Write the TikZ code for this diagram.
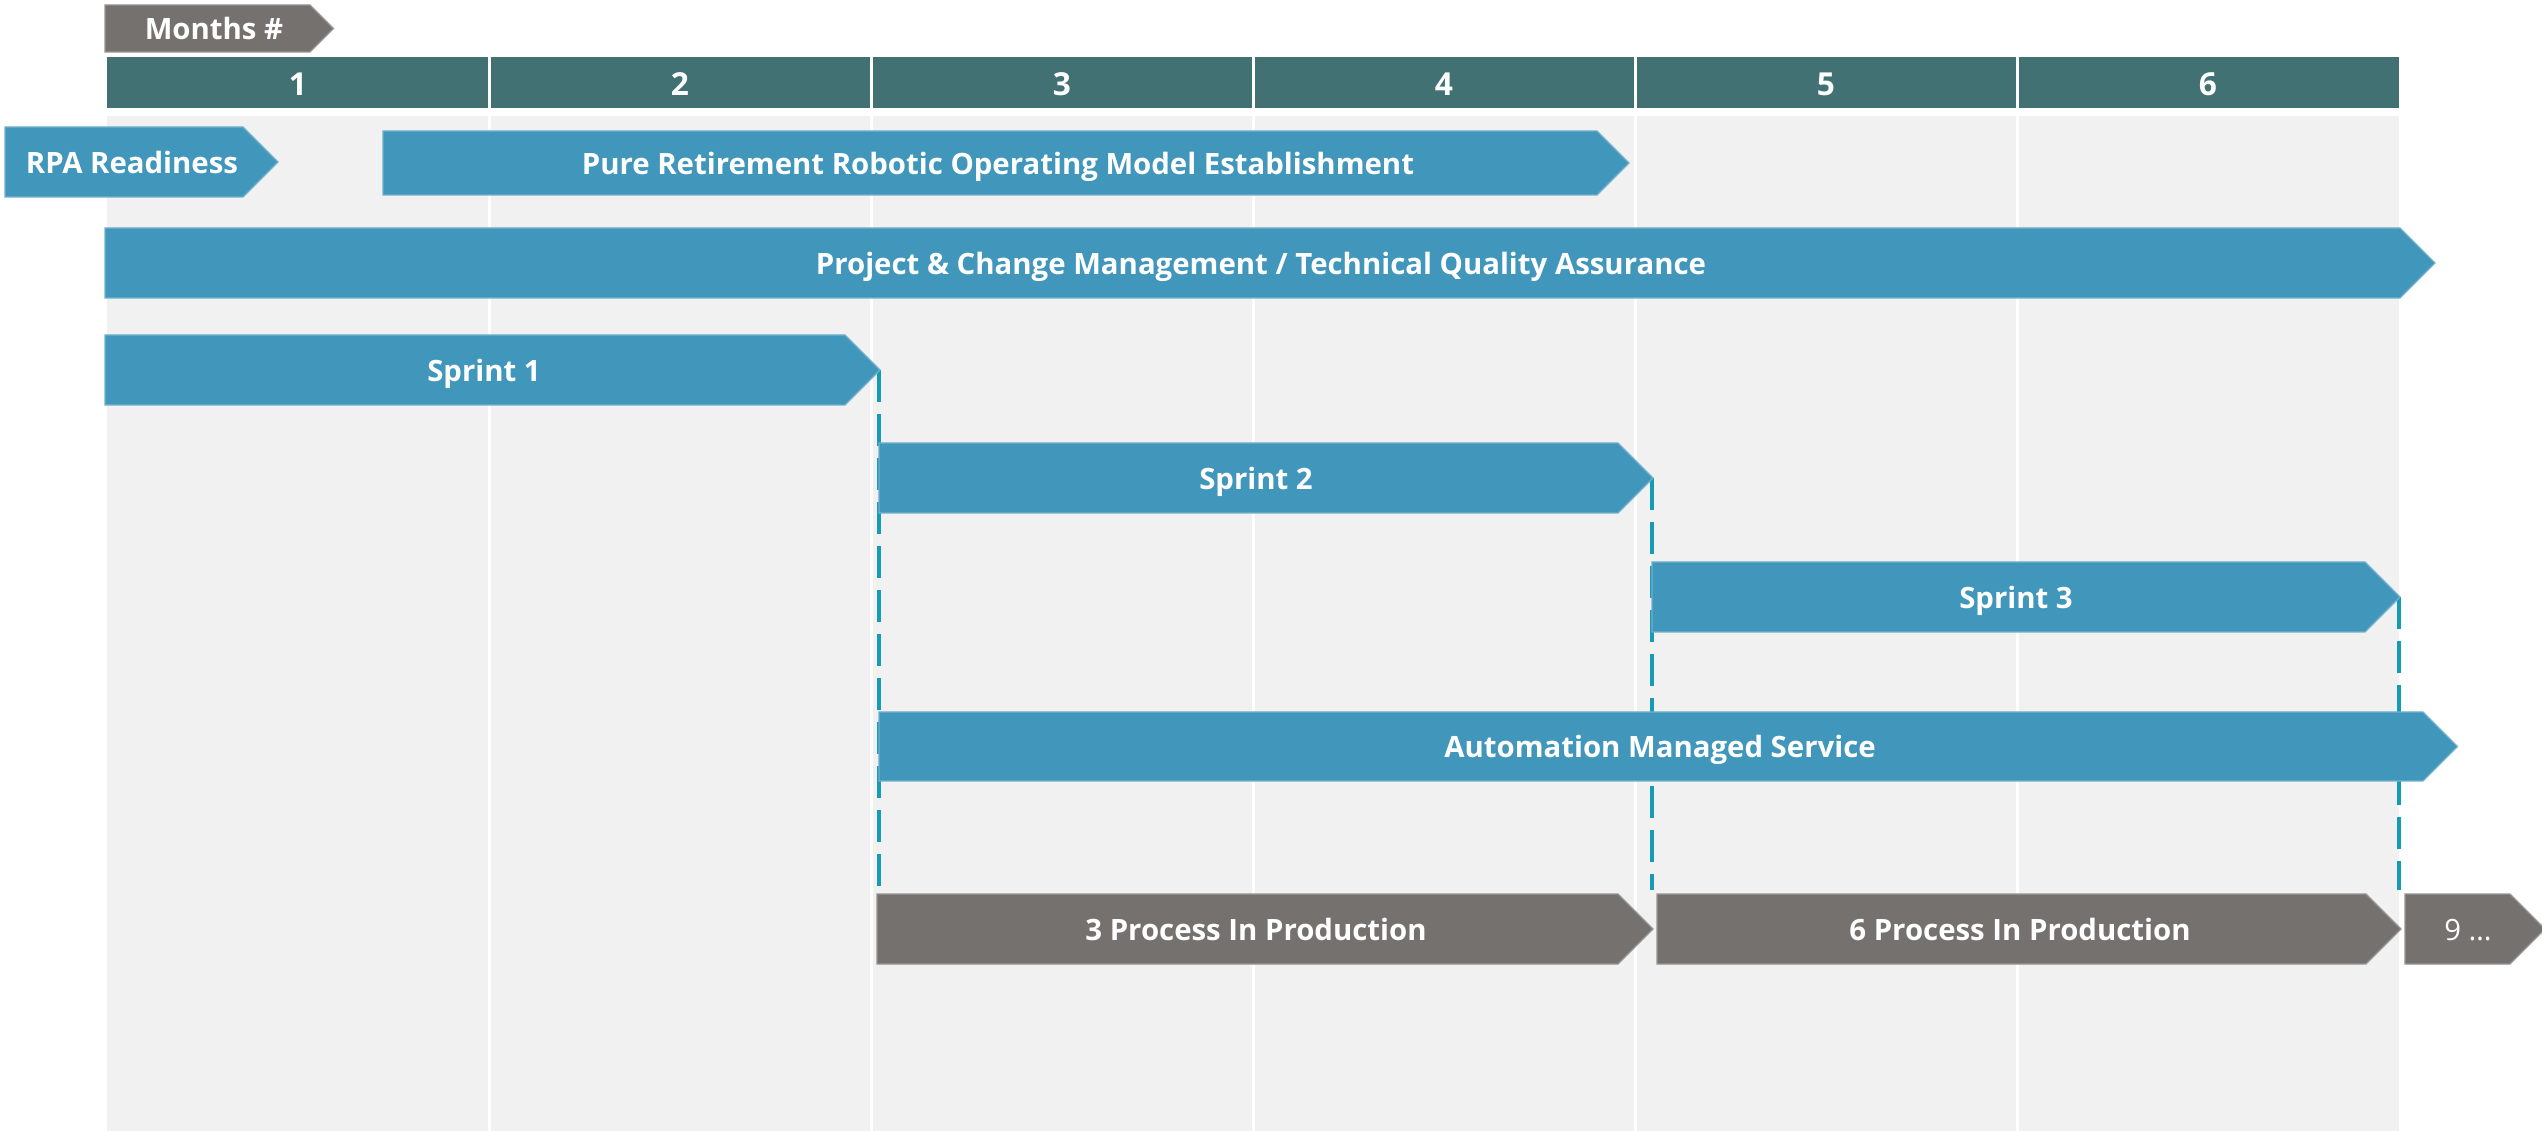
\documentclass[tikz,border=0pt]{standalone}
\usepackage{fontspec}
\setmainfont{Open Sans}
\definecolor{barblue}{HTML}{4196BB}
\definecolor{hdr}{HTML}{417173}
\definecolor{gbar}{HTML}{75716F}
\definecolor{bgc}{HTML}{F1F1F1}
\definecolor{dashc}{HTML}{179BB4}
\tikzset{
  bartext/.style={text=white,font=\fontsize{8.35pt}{9pt}\selectfont\bfseries,inner sep=0pt,text height=0.714em,text depth=0pt},
  hdrtext/.style={text=white,font=\fontsize{9pt}{10pt}\selectfont\bfseries,inner sep=0pt,text height=0.714em,text depth=0pt},
  linkline/.style={draw=dashc,line width=0.95pt,dash pattern=on 0.32cm off 0.12cm},
  colsep/.style={draw=white,line width=0.85pt},
}
% name, left, rectend, top, bottom, colour, text, text x
\newcommand\chevbar[8]{%
  \path[fill=#6,draw=#6!75!white,line width=0.35pt] (#2,#4) -- (#3,#4) -- ({#3+(#5-#4)/2},{(#4+#5)/2}) -- (#3,#5) -- (#2,#5) -- cycle;
  \node[bartext] (#1) at (#8,{(#4+#5)/2-1.5}) {#7};
}
\begin{document}
\begin{tikzpicture}[x=0.01cm,y=-0.01cm]
\useasboundingbox (0,0) rectangle (2542,1131);
% background grid
\fill[bgc] (107,116) rectangle (2399,1131);
\fill[hdr] (107,57) rectangle (2399,109);
\foreach \i in {1,...,5}{
  \draw[colsep] ({107+382*\i},57) -- ({107+382*\i},1131);
}
\draw[white,line width=2.2pt] (100,112) -- (2405,112);
\foreach \i/\t in {0/1,1/2,2/3,3/4,4/5,5/6}{
  \node[hdrtext] (m\t) at ({107+382*\i+191},83) {\t};
}
% Months tab
\chevbar{months}{105}{310}{5}{52}{gbar}{Months \#}{214}
% dashed links (behind bars)
\coordinate (s1tip) at (879,370);
\coordinate (s1end) at (879,890);
\coordinate (s2tip) at (1652,478);
\coordinate (s2end) at (1652,890);
\coordinate (s3tip) at (2399,597);
\coordinate (s3end) at (2399,890);
\draw[linkline] (s1tip) -- (s1end);
\draw[linkline] (s2tip) -- (s2end);
\draw[linkline] (s3tip) -- (s3end);
% bars
\chevbar{rpa}{5}{243}{127}{197}{barblue}{RPA Readiness}{132}
\chevbar{pure}{383}{1597}{131}{195}{barblue}{Pure Retirement Robotic Operating Model Establishment}{998}
\chevbar{proj}{105}{2400}{228}{298}{barblue}{Project \& Change Management / Technical Quality Assurance}{1261}
\chevbar{s1}{105}{845}{335}{405}{barblue}{Sprint 1}{484}
\chevbar{s2}{879}{1618}{443}{513}{barblue}{Sprint 2}{1256}
\chevbar{s3}{1652}{2365}{562}{632}{barblue}{Sprint 3}{2016}
\chevbar{ams}{879}{2423}{712}{781}{barblue}{Automation Managed Service}{1660}
\chevbar{p3}{877}{1618}{894}{964}{gbar}{3 Process In Production}{1256}
\chevbar{p6}{1657}{2366}{894}{964}{gbar}{6 Process In Production}{2020}
\chevbar{p9}{2405}{2510}{894}{964}{gbar}{\mdseries 9 \ldots}{2468}
\end{tikzpicture}
\end{document}
